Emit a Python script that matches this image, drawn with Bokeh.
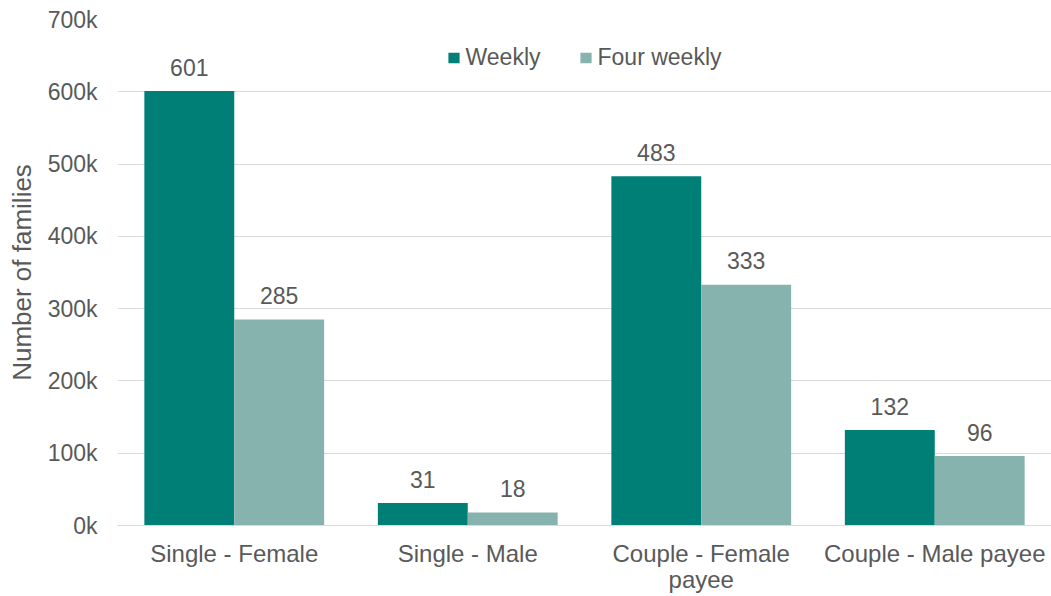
from bokeh.plotting import figure
from bokeh.models import ColumnDataSource, Range1d, FixedTicker, CategoricalAxis, FactorRange
from bokeh.core.properties import value
from bokeh.transform import dodge
from bokeh.embed import file_html
from bokeh.resources import INLINE

# category names, written as they are wrapped on the axis (line 1 / line 2)
category_line1 = ["Single - Female", "Single - Male", "Couple - Female", "Couple - Male payee"]
category_line2 = [" ", "  ", "payee", "   "]
weekly = [601, 31, 483, 132]          # thousands of families
four_weekly = [285, 18, 333, 96]      # thousands of families
y_ticks = [0, 100000, 200000, 300000, 400000, 500000, 600000, 700000]
y_tick_labels = ["0k", "100k", "200k", "300k", "400k", "500k", "600k", "700k"]

FONT = "Liberation Sans"
TXT = "#595959"
C_WEEK = "#007F77"
C_FOUR = "#87B3AE"

src = ColumnDataSource(dict(
    cat=category_line1,
    weekly=[v * 1000 for v in weekly],
    four=[v * 1000 for v in four_weekly],
    weekly_lbl=[str(v) for v in weekly],
    four_lbl=[str(v) for v in four_weekly],
))

p = figure(x_range=FactorRange(factors=category_line1), y_range=Range1d(0, 700000),
           width=1051, height=596, output_backend="svg", toolbar_location=None,
           min_border_left=117, min_border_top=19, min_border_bottom=71, min_border_right=0)
p.extra_x_ranges = {"line2": FactorRange(factors=category_line2)}
p.outline_line_color = None
p.background_fill_color = "white"
p.border_fill_color = "white"

bw = 0.385
r1 = p.vbar(x=dodge("cat", -bw / 2, range=p.x_range), top="weekly", width=bw, source=src,
            fill_color=C_WEEK, line_color=None, legend_label="Weekly")
r2 = p.vbar(x=dodge("cat", bw / 2, range=p.x_range), top="four", width=bw, source=src,
            fill_color=C_FOUR, line_color=None, legend_label="Four weekly")

p.text(x=dodge("cat", -bw / 2, range=p.x_range), y="weekly", text="weekly_lbl", source=src,
       text_align="center", text_baseline="alphabetic", y_offset=-24,
       text_font=value(FONT), text_font_size="23px", text_color=TXT)
p.text(x=dodge("cat", bw / 2, range=p.x_range), y="four", text="four_lbl", source=src,
       text_align="center", text_baseline="alphabetic", y_offset=-24,
       text_font=value(FONT), text_font_size="23px", text_color=TXT)

# y axis
p.yaxis.ticker = FixedTicker(ticks=y_ticks)
p.yaxis.major_label_overrides = {t: l for t, l in zip(y_ticks, y_tick_labels)}
p.yaxis.axis_line_color = None
p.yaxis.major_tick_line_color = None
p.yaxis.minor_tick_line_color = None
p.yaxis.major_tick_out = 0
p.yaxis.major_tick_in = 0
p.yaxis.major_label_standoff = 20
p.yaxis.major_label_text_font = FONT
p.yaxis.major_label_text_font_size = "23px"
p.yaxis.major_label_text_color = TXT
p.yaxis.axis_label = "Number of families"
p.yaxis.axis_label_text_font = FONT
p.yaxis.axis_label_text_font_size = "26px"
p.yaxis.axis_label_text_font_style = "normal"
p.yaxis.axis_label_text_color = TXT
p.yaxis.axis_label_standoff = 8

# x axis: first line of category labels
xa = p.xaxis[0]
xa.axis_line_color = "#D9D9D9"
xa.axis_line_width = 1
xa.major_tick_line_color = None
xa.major_tick_out = 0
xa.major_tick_in = 0
xa.major_label_standoff = 14
xa.major_label_text_font = FONT
xa.major_label_text_font_size = "24px"
xa.major_label_text_color = TXT

# second line of the wrapped category labels
xa2 = CategoricalAxis(x_range_name="line2")
xa2.axis_line_color = None
xa2.major_tick_line_color = None
xa2.minor_tick_line_color = None
xa2.major_tick_out = 0
xa2.major_tick_in = 0
xa2.major_label_standoff = -4
xa2.major_label_text_font = FONT
xa2.major_label_text_font_size = "24px"
xa2.major_label_text_color = TXT
p.add_layout(xa2, "below")

p.xgrid.grid_line_color = None
p.ygrid.grid_line_color = "#D9D9D9"
p.ygrid.grid_line_width = 1

# legend
lg = p.legend[0]
lg.orientation = "horizontal"
lg.location = "top_center"
lg.border_line_color = None
lg.background_fill_alpha = 0
lg.label_text_font = FONT
lg.label_text_font_size = "23px"
lg.label_text_color = TXT
lg.glyph_width = 14
lg.glyph_height = 13
lg.label_standoff = 5
lg.spacing = 38
lg.padding = 5
lg.margin = 25

open("out.html", "w").write(file_html(p, INLINE))
